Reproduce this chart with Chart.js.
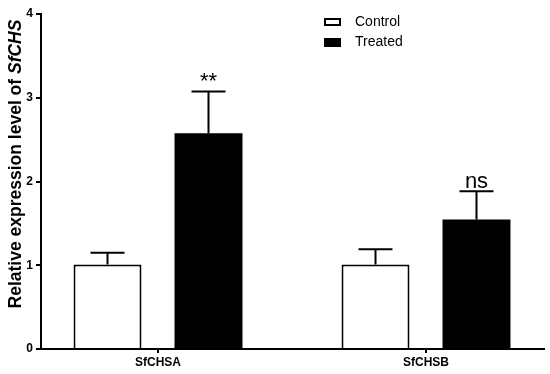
<!DOCTYPE html>
<html>
<head>
<meta charset="utf-8">
<script src="https://cdn.jsdelivr.net/npm/chart.js@4"></script>
<style>
html,body{margin:0;padding:0;background:#fff;}
#c{display:block;}
</style>
</head>
<body>
<canvas id="c" width="550" height="374"></canvas>
<script>
const categories = ['SfCHSA', 'SfCHSB'];
const seriesNames = ['Control', 'Treated'];
const controlValues = [1.01, 1.01];
const controlErrors = [0.14, 0.18];
const treatedValues = [2.575, 1.545];
const treatedErrors = [0.50, 0.34];
const significance = ['**', 'ns'];
const yTicks = [0, 1, 2, 3, 4];
const yTitleParts = [['Relative expression level of ', false], ['SfCHS', true]];

const FONT = '"Liberation Sans", Arial, Helvetica, sans-serif';

const toPoints = vals => categories.map((c, i) => ({x: i, y: vals[i]}));

const errorBarPlugin = {
  id: 'errorBars',
  afterDatasetsDraw(chart) {
    const ctx = chart.ctx;
    const y = chart.scales.y;
    const errs = [controlErrors, treatedErrors];
    ctx.save();
    ctx.strokeStyle = '#000';
    ctx.lineWidth = 2;
    chart.data.datasets.forEach((ds, di) => {
      const meta = chart.getDatasetMeta(di);
      meta.data.forEach((bar, i) => {
        const v = ds.data[i].y;
        const top = y.getPixelForValue(v);
        const capY = y.getPixelForValue(v + errs[di][i]);
        const half = bar.width / 4;
        ctx.beginPath();
        ctx.moveTo(bar.x, top);
        ctx.lineTo(bar.x, capY);
        ctx.moveTo(bar.x - half, capY);
        ctx.lineTo(bar.x + half, capY);
        ctx.stroke();
        if (di === 1) {
          ctx.fillStyle = '#000';
          ctx.font = '22px ' + FONT;
          ctx.textAlign = 'center';
          ctx.textBaseline = 'alphabetic';
          ctx.fillText(significance[i], bar.x, capY - 3);
        }
      });
    });
    ctx.restore();
  }
};

const decorPlugin = {
  id: 'decor',
  afterDraw(chart) {
    const ctx = chart.ctx;
    ctx.save();
    // legend
    const bx = 324, bw = 17;
    ctx.fillStyle = '#fff';
    ctx.strokeStyle = '#000';
    ctx.lineWidth = 2;
    ctx.fillRect(bx, 18, bw, 8);
    ctx.strokeRect(bx + 1, 19, bw - 2, 6);
    ctx.fillStyle = '#000';
    ctx.fillRect(bx, 38, bw, 9);
    ctx.font = '14px ' + FONT;
    ctx.textAlign = 'left';
    ctx.textBaseline = 'middle';
    ctx.fillText(seriesNames[0], 355, 22.5);
    ctx.fillText(seriesNames[1], 355, 42.5);
    // y title with italic part
    ctx.translate(21, 164);
    ctx.rotate(-Math.PI / 2);
    ctx.textBaseline = 'alphabetic';
    const fs = '17.5px ';
    let total = 0;
    const widths = yTitleParts.map(([t, it]) => {
      ctx.font = (it ? 'italic ' : '') + 'bold ' + fs + FONT;
      const w = ctx.measureText(t).width;
      total += w;
      return w;
    });
    let x = -total / 2;
    yTitleParts.forEach(([t, it], k) => {
      ctx.font = (it ? 'italic ' : '') + 'bold ' + fs + FONT;
      ctx.fillText(t, x, 0);
      x += widths[k];
    });
    ctx.restore();
  }
};

new Chart(document.getElementById('c'), {
  type: 'bar',
  data: {
    datasets: [
      {label: seriesNames[0], data: toPoints(controlValues), backgroundColor: '#fff', borderColor: '#000', borderWidth: 2},
      {label: seriesNames[1], data: toPoints(treatedValues), backgroundColor: '#000', borderColor: '#000', borderWidth: 0}
    ]
  },
  options: {
    responsive: false,
    animation: false,
    devicePixelRatio: 1,
    layout: {padding: {left: 0, right: 6, top: 14, bottom: 0}},
    categoryPercentage: 0.7537,
    barPercentage: 0.673,
    plugins: {legend: {display: false}, tooltip: {enabled: false}},
    scales: {
      x: {
        type: 'linear',
        offset: false,
        min: -0.4366,
        max: 1.4403,
        afterBuildTicks(scale) { scale.ticks = categories.map((c, i) => ({value: i})); },
        afterFit(scale) { scale.height = 25; },
        ticks: {
          callback: v => categories[v],
          color: '#000',
          font: {family: FONT, size: 12, weight: 'bold'},
          padding: 2,
          maxRotation: 0
        },
        grid: {display: true, offset: false, drawOnChartArea: false, drawTicks: true, tickLength: 4, color: '#000', lineWidth: 2},
        border: {display: true, color: '#000', width: 2}
      },
      y: {
        min: 0,
        max: 4,
        afterBuildTicks(scale) { scale.ticks = yTicks.map(v => ({value: v})); },
        afterFit(scale) { scale.width = 41; },
        ticks: {
          color: '#000',
          font: {family: FONT, size: 12, weight: 'bold'},
          padding: 3
        },
        grid: {display: true, drawOnChartArea: false, drawTicks: true, tickLength: 5, color: '#000', lineWidth: 2},
        border: {display: true, color: '#000', width: 2}
      }
    }
  },
  plugins: [errorBarPlugin, decorPlugin]
});
</script>
</body>
</html>
